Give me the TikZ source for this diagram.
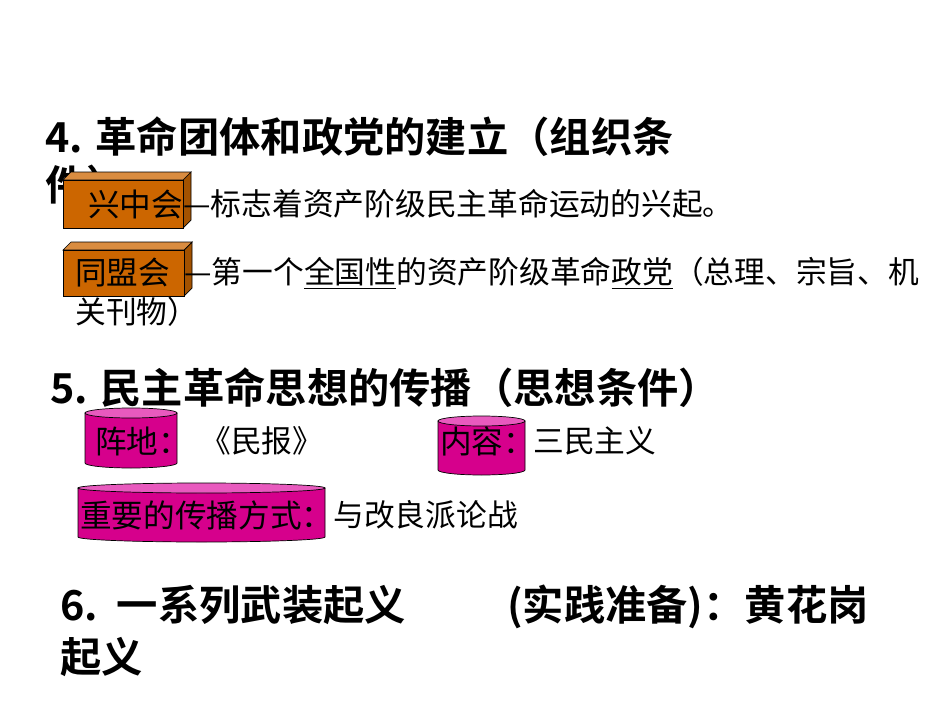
\documentclass[tikz,border=0pt]{standalone}
\usepackage{fontspec}
\setmainfont{Noto Sans CJK SC}
\newfontfamily\hb{Noto Sans CJK SC Bold}
\definecolor{brown1}{RGB}{204,102,0}
\definecolor{mag}{RGB}{214,0,140}
\definecolor{magtop}{RGB}{232,90,190}
\begin{document}
\begin{tikzpicture}[x=0.02cm,y=-0.02cm,
  head/.style={anchor=west,inner sep=0,font=\fontsize{23.5}{23.5}\selectfont},
  body/.style={anchor=west,inner sep=0,font=\fontsize{17.5}{17.5}\selectfont},
  lbl/.style={anchor=west,inner sep=0,font=\fontsize{18}{18}\selectfont}]
\useasboundingbox[fill=white] (0,0) rectangle (950,713);
\newcommand\brick[4]{% x1 y1 x2 y2
  \fill[brown1!80!black,draw=black] (#3,#2)--(#3+8,#2-8)--(#3+8,#4-8)--(#3,#4)--cycle;
  \fill[brown1!75!white,draw=black] (#1,#2)--(#1+8,#2-8)--(#3+8,#2-8)--(#3,#2)--cycle;
  \fill[brown1,draw=black] (#1,#2) rectangle (#3,#4);}
\newcommand\cyl[4]{% x1 y1 x2 y2
  \fill[mag,draw=black,thin] (#1,#2) -- (#1,#4) arc[start angle=180,end angle=0,x radius={(#3-#1)/2},y radius=5] -- (#3,#2) -- cycle;
  \fill[magtop,draw=black,thin] ({(#1+#3)/2},#2) ellipse[x radius={(#3-#1)/2},y radius=5];}
\node[head] (h4) at (45,137) {\hb 4. 革命团体和政党的建立（组织条};
\node[head] (h4b) at (45,185) {\hb 件）};
\brick{63}{180}{183}{228}
\node[lbl] (x1) at (88,204) {兴中会};
\node[body] (t1) at (183,204) {—标志着资产阶级民主革命运动的兴起。};
\brick{63}{250}{184}{296}
\node[lbl] (x2) at (75,273) {同盟会};
\node[body] (t2) at (184,273) {—第一个\underline{\itshape 全国性}的资产阶级革命\underline{\itshape 政党}（总理、宗旨、机};
\node[body] (t2b) at (75,312) {关刊物）};
\node[head] (h5) at (50,388) {\hb 5. 民主革命思想的传播（思想条件）};
\cyl{85}{413}{177}{463}
\node[lbl] (z) at (95,441) {阵地：};
\node[body] (mb) at (200,441) {《民报》};
\cyl{438}{421}{525}{470}
\node[lbl] (n) at (440,441) {内容：};
\node[body] (sm) at (533,441) {三民主义};
\cyl{78}{488}{325}{537}
\node[lbl] (w) at (80,515) {重要的传播方式：};
\node[body] (lz) at (333,515) {与改良派论战};
\node[head] (h6) at (60,607) {\hb 6.\ \ 一系列武装起义\qquad\ \ (实践准备)：黄花岗};
\node[head] (h6b) at (60,657) {\hb 起义};
\end{tikzpicture}
\end{document}
